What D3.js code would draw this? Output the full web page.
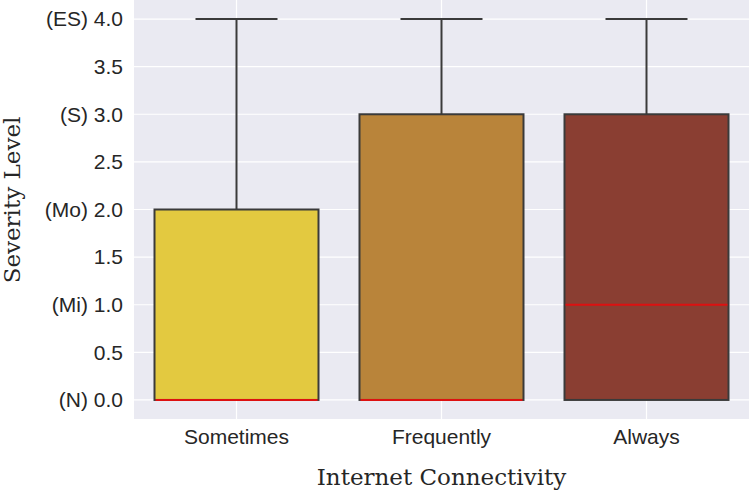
<!DOCTYPE html>
<html><head><meta charset="utf-8">
<script src="https://cdn.jsdelivr.net/npm/d3@7"></script>
<style>body{margin:0;background:#fff}svg{display:block}</style>
</head><body>
<script>
const categories = ["Sometimes","Frequently","Always"];
const q1 = [0,0,0];
const medians = [0,0,1];
const q3 = [2,3,3];
const whiskerLow = [0,0,0];
const whiskerHigh = [4,4,4];
const colors = ["#e3c940","#b9843a","#8a3e32"];
const yTicks = [0,0.5,1,1.5,2,2.5,3,3.5,4];
const yTickLabels = ["(N) 0.0","0.5","(Mi) 1.0","1.5","(Mo) 2.0","2.5","(S) 3.0","3.5","(ES) 4.0"];

const W=750,H=492;
const m={left:134,right:1,top:0,bottom:73};
const svg=d3.select("body").append("svg").attr("width",W).attr("height",H);
const pw=W-m.left-m.right, ph=H-m.top-m.bottom;
const g=svg.append("g").attr("transform",`translate(${m.left},${m.top})`);
g.append("rect").attr("width",pw).attr("height",ph).attr("fill","#eaeaf2");

const x=d3.scaleBand().domain(categories).range([0,pw]).paddingInner(0).paddingOuter(0);
const y=d3.scaleLinear().domain([-0.2,4.2]).range([ph,0]);
const bw=x.bandwidth()*0.8;

g.selectAll(".gy").data(yTicks).join("line").attr("x1",0).attr("x2",pw)
 .attr("y1",d=>y(d)).attr("y2",d=>y(d)).attr("stroke","#fff").attr("stroke-width",1.2);
g.selectAll(".gx").data(categories).join("line").attr("y1",0).attr("y2",ph)
 .attr("x1",d=>x(d)+x.bandwidth()/2).attr("x2",d=>x(d)+x.bandwidth()/2).attr("stroke","#fff").attr("stroke-width",1.2);

const edge="#3a3a3a";
categories.forEach((c,i)=>{
  const cx=x(c)+x.bandwidth()/2;
  g.append("line").attr("x1",cx).attr("x2",cx).attr("y1",y(q3[i])).attr("y2",y(whiskerHigh[i])).attr("stroke",edge).attr("stroke-width",2);
  g.append("line").attr("x1",cx-bw/4).attr("x2",cx+bw/4).attr("y1",y(whiskerHigh[i])).attr("y2",y(whiskerHigh[i])).attr("stroke",edge).attr("stroke-width",2);
  g.append("line").attr("x1",cx).attr("x2",cx).attr("y1",y(q1[i])).attr("y2",y(whiskerLow[i])).attr("stroke",edge).attr("stroke-width",2);
  g.append("rect").attr("x",cx-bw/2).attr("width",bw).attr("y",y(q3[i])).attr("height",y(q1[i])-y(q3[i]))
   .attr("fill",colors[i]).attr("stroke",edge).attr("stroke-width",2);
  g.append("line").attr("x1",cx-bw/2+1).attr("x2",cx+bw/2-1).attr("y1",y(medians[i])).attr("y2",y(medians[i])).attr("stroke","#dd1111").attr("stroke-width",2);
});

const ya=g.append("g").call(d3.axisLeft(y).tickValues(yTicks).tickFormat((d,i)=>yTickLabels[i]).tickSize(0).tickPadding(11));
ya.select(".domain").remove();
ya.selectAll("text").attr("font-family","'Liberation Sans',Arial,sans-serif").attr("font-size",21).attr("fill","#262626");

const xa=g.append("g").attr("transform",`translate(0,${ph})`).call(d3.axisBottom(x).tickSize(0).tickPadding(10));
xa.select(".domain").remove();
xa.selectAll("text").attr("font-family","'Liberation Sans',Arial,sans-serif").attr("font-size",21).attr("fill","#262626");

svg.append("text").attr("x",m.left+pw/2).attr("y",485).attr("text-anchor","middle")
 .attr("font-family","'DejaVu Serif',serif").attr("font-size",23).attr("fill","#262626").text("Internet Connectivity");
svg.append("text").attr("transform",`translate(20,200) rotate(-90)`).attr("text-anchor","middle")
 .attr("font-family","'DejaVu Serif',serif").attr("font-size",23).attr("fill","#262626").text("Severity Level");
</script>
</body></html>
